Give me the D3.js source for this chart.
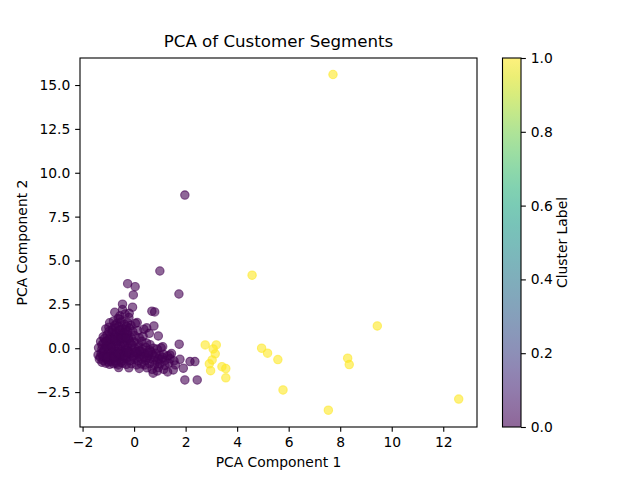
<!DOCTYPE html>
<html><head><meta charset="utf-8">
<script src="https://cdn.jsdelivr.net/npm/d3@7"></script>
<style>body{margin:0;background:#fff}svg{font-family:"DejaVu Sans",sans-serif}</style>
</head><body><svg id="c" width="640" height="480"></svg>
<script>
// ---- data ----
const cluster0 = [
 [1.97,8.73],[1.0,4.40],[1.74,3.09],[-0.25,3.68],[0.04,3.51],[-0.03,3.04],[-0.45,2.51],[-0.06,2.34],[-0.19,1.99],
 [0.69,2.11],[0.80,2.07],[0.12,1.46],[0.49,1.16],[0.77,1.27],[0.38,1.08],[0.59,0.85],[0.94,0.70],[1.75,0.23],
 [1.11,0.09],[1.39,-0.38],[0.42,-0.95],
 [-0.75,2.05],[-0.55,1.85],[-0.45,2.2],[-0.35,1.95],[-0.62,1.7],[-0.2,1.75],
 [-0.95,1.45],[-0.8,1.55],[-0.68,1.4],[-0.5,1.5],[-0.38,1.35],[-0.25,1.45],[-0.12,1.3],[0.05,1.42],
 [-1.1,1.1],[-0.98,1.2],[-0.85,1.05],[-0.72,1.15],[-0.6,1.0],[-0.45,1.1],[-0.32,1.05],[-0.18,1.15],[-0.05,0.95],[0.15,1.0],
 [-1.2,0.65],[-1.05,0.75],[-0.92,0.7],[-0.78,0.8],[-0.65,0.65],[-0.52,0.75],[-0.4,0.7],[-0.27,0.8],[-0.12,0.62],[0.02,0.72],[0.2,0.6],[0.35,0.68],
 [-1.3,0.38],[-1.18,0.3],[-1.05,0.42],[-0.92,0.3],[-0.8,0.4],[-0.68,0.28],[-0.55,0.38],[-0.42,0.32],[-0.3,0.42],[-0.15,0.3],[0.0,0.36],[0.15,0.25],[0.3,0.4],[0.48,0.3],[0.62,0.2],
 [-1.38,0.02],[-1.25,-0.05],[-1.12,0.08],[-1.0,-0.02],[-0.88,0.05],[-0.75,-0.08],[-0.62,0.02],[-0.5,0.1],[-0.38,-0.05],[-0.25,0.05],[-0.12,-0.1],[0.02,0.0],[0.18,0.08],[0.32,-0.05],[0.45,0.05],[0.6,-0.1],[0.75,0.0],[0.9,-0.05],[1.05,0.02],
 [-1.4,-0.38],[-1.28,-0.3],[-1.15,-0.42],[-1.02,-0.32],[-0.9,-0.4],[-0.78,-0.3],[-0.65,-0.42],[-0.52,-0.35],[-0.4,-0.28],[-0.28,-0.4],[-0.15,-0.32],[0.0,-0.42],[0.12,-0.3],[0.25,-0.38],[0.4,-0.3],[0.55,-0.42],[0.7,-0.35],[0.85,-0.28],[1.0,-0.4],[1.15,-0.35],[1.3,-0.45],[1.45,-0.3],
 [-1.35,-0.62],[-1.2,-0.7],[-1.08,-0.6],[-0.95,-0.68],[-0.82,-0.6],[-0.7,-0.72],[-0.55,-0.65],[-0.42,-0.7],[-0.3,-0.6],[-0.15,-0.7],[0.0,-0.65],[0.15,-0.72],[0.3,-0.62],[0.45,-0.7],[0.6,-0.6],[0.75,-0.68],[0.9,-0.75],[1.05,-0.62],[1.2,-0.7],[1.4,-0.6],[1.55,-0.72],[1.78,-0.63],[2.17,-0.76],[2.36,-0.76],
 [-1.1,-0.85],[-0.95,-0.92],[-0.8,-0.88],[-0.62,-0.95],[-0.45,-0.85],[-0.3,-0.92],[-0.1,-0.88],[0.1,-0.95],[0.28,-0.9],[0.6,-0.88],[0.8,-0.95],[1.0,-0.9],[1.2,-0.98],[1.35,-0.85],[1.6,-0.95],
 [-0.6,-1.1],[-0.2,-1.12],[0.2,-1.15],[0.5,-1.12],[0.7,-1.2],[0.95,-1.1],[1.15,-1.2],[1.52,-1.24],[1.91,-1.14],
 [0.74,-1.42],[1.3,-1.35],[1.97,-1.81],[2.45,-1.81],[0.9,-1.3],
 [-1.32,-0.5],[-1.2,-0.2],[-1.1,-0.55],[-1.0,0.2],[-0.95,-0.15],[-0.85,0.55],[-0.85,-0.5],[-0.72,0.15],[-0.7,-0.2],[-0.6,0.5],[-0.58,-0.5],[-0.48,-0.15],[-0.45,0.9],[-0.35,0.2],[-0.35,-0.55],[-0.22,0.55],[-0.2,-0.2],[-0.08,0.2],[-0.05,-0.5],[-1.25,0.2],[-1.15,0.55],[-0.98,0.95],[-0.75,1.3],[-0.6,1.25],[-0.3,1.25],[-0.55,1.65],[0.1,-0.2],[0.3,-0.2],[0.5,-0.55],[0.65,-0.2],[0.2,-0.5],[-0.9,-0.75],[-0.7,-0.85],[-0.5,-0.8],[-1.25,-0.8],[-1.0,-0.78],
 [-1.18,-0.12],[-1.05,0.1],[-0.9,0.18],[-0.82,-0.22],[-0.66,0.4],[-0.55,-0.25],[-0.44,0.55],[-0.3,-0.12],[-0.18,0.42],[-1.22,-0.45],[-1.05,-0.5],[-0.78,-0.52],[-0.62,-0.3],[-0.4,-0.45],[-0.25,-0.25],
 [-0.85,0.9],[-0.7,0.85],[-0.55,1.05],[-0.38,0.85],[-0.25,0.95],[-1.1,0.4],[-0.95,0.55],[-0.75,0.55],[-0.5,0.6],[-0.33,0.6],
 [0.05,-0.25],[0.22,-0.15],[0.38,-0.5],[0.55,-0.25],[0.8,-0.5],[0.95,-0.6],[1.1,-0.52]
];
const cluster1 = [
 [7.72,15.6],[4.58,4.16],[9.44,1.27],[2.76,0.19],[3.19,0.19],[3.07,-0.04],[3.15,-0.32],[3.03,-0.67],[2.92,-0.89],
 [2.97,-1.28],[3.41,-1.05],[3.56,-1.16],[3.56,-1.69],[4.95,0.0],[5.18,-0.28],[5.58,-0.65],[8.29,-0.57],[8.35,-0.93],
 [5.78,-2.38],[7.54,-3.53],[12.6,-2.9]
];
const xTicks = [-2,0,2,4,6,8,10,12];
const yTicks = [-2.5,0,2.5,5,7.5,10,12.5,15];
const cbTicks = [0,0.2,0.4,0.6,0.8,1.0];
const labels = {title:"PCA of Customer Segments", x:"PCA Component 1", y:"PCA Component 2", cb:"Cluster Label"};

// ---- layout ----
const L=80,R=477,T=58,B=427;
const svg=d3.select("#c");
const x=d3.scaleLinear().domain([-2.10,13.31]).range([L,R]);
const y=d3.scaleLinear().domain([-4.49,16.54]).range([B,T]);
const color=d3.scaleSequential(d3.interpolateViridis).domain([0,1]);
const fs=13.89, tk=4.86;

const pts=[...cluster0.map(d=>({x:d[0],y:d[1],c:0})),...cluster1.map(d=>({x:d[0],y:d[1],c:1}))];
svg.append("g").selectAll("circle").data(pts).join("circle")
 .attr("cx",d=>x(d.x)).attr("cy",d=>y(d.y)).attr("r",4.2)
 .attr("fill",d=>color(d.c)).attr("fill-opacity",0.6)
 .attr("stroke",d=>color(d.c)).attr("stroke-opacity",0.6).attr("stroke-width",1.1);

svg.append("rect").attr("x",L).attr("y",T).attr("width",R-L).attr("height",B-T)
 .attr("fill","none").attr("stroke","#000").attr("stroke-width",1.1);

const xa=svg.append("g").attr("transform",`translate(0,${B})`)
 .call(d3.axisBottom(x).tickValues(xTicks).tickFormat(d3.format("d")).tickSize(tk).tickPadding(tk));
const ya=svg.append("g").attr("transform",`translate(${L},0)`)
 .call(d3.axisLeft(y).tickValues(yTicks).tickFormat(d3.format(".1f")).tickSize(tk).tickPadding(tk));
[xa,ya].forEach(a=>{a.select(".domain").remove();a.selectAll("line").attr("stroke","#000").attr("stroke-width",1.1);
 a.selectAll("text").attr("font-size",fs).attr("font-family","DejaVu Sans").attr("fill","#000");});

svg.append("text").attr("x",(L+R)/2).attr("y",47).attr("text-anchor","middle").attr("font-size",16.67).text(labels.title);
svg.append("text").attr("x",(L+R)/2).attr("y",467).attr("text-anchor","middle").attr("font-size",fs).text(labels.x);
svg.append("text").attr("transform",`translate(27,${(T+B)/2}) rotate(-90)`).attr("text-anchor","middle").attr("font-size",fs).text(labels.y);

// colorbar
const cbL=502.5, cbW=18.5;
const grad=svg.append("defs").append("linearGradient").attr("id","g").attr("x1",0).attr("y1",1).attr("x2",0).attr("y2",0);
d3.range(0,1.0001,0.05).forEach(t=>grad.append("stop").attr("offset",t).attr("stop-color",color(t)).attr("stop-opacity",0.6));
svg.append("rect").attr("x",cbL).attr("y",T).attr("width",cbW).attr("height",B-T).attr("fill","url(#g)")
 .attr("stroke","#000").attr("stroke-width",1.1);
const cy=d3.scaleLinear().domain([0,1]).range([B,T]);
const ca=svg.append("g").attr("transform",`translate(${cbL+cbW},0)`)
 .call(d3.axisRight(cy).tickValues(cbTicks).tickFormat(d3.format(".1f")).tickSize(tk).tickPadding(tk));
ca.select(".domain").remove();
ca.selectAll("line").attr("stroke","#000").attr("stroke-width",1.1);
ca.selectAll("text").attr("font-size",fs).attr("font-family","DejaVu Sans").attr("fill","#000");
svg.append("text").attr("transform",`translate(567,${(T+B)/2}) rotate(-90)`).attr("text-anchor","middle").attr("font-size",fs).text(labels.cb);
</script></body></html>
